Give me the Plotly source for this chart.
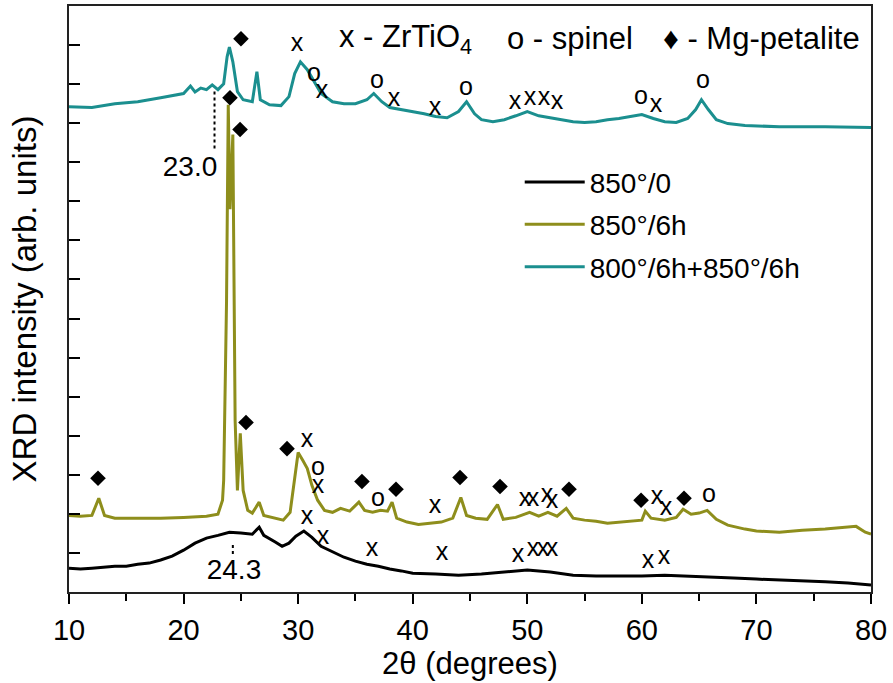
import plotly.graph_objects as go

# ---- data (2theta in degrees, intensity in arbitrary offset units) ----
x_850_0 = [10, 11, 12, 13, 14, 15, 16, 17, 18, 19, 20, 21, 22, 23, 24, 25, 26, 26.6, 27, 28, 28.6,
           29.2, 29.8, 30.5, 31.2, 32, 33, 34, 35, 36, 37, 38, 39, 40, 42, 44, 46, 48, 50, 52, 54,
           56, 58, 60, 62, 64, 66, 68, 70, 72, 74, 76, 78, 80]
y_850_0 = [0.61, 0.59, 0.61, 0.64, 0.66, 0.66, 0.71, 0.74, 0.82, 0.92, 1.07, 1.25, 1.38, 1.45, 1.53,
           1.51, 1.48, 1.66, 1.45, 1.28, 1.17, 1.25, 1.43, 1.56, 1.40, 1.17, 1.02, 0.89, 0.79, 0.71,
           0.66, 0.59, 0.54, 0.48, 0.46, 0.43, 0.46, 0.51, 0.56, 0.51, 0.43, 0.41, 0.41, 0.41, 0.43,
           0.41, 0.38, 0.36, 0.33, 0.31, 0.28, 0.26, 0.23, 0.18]

x_850_6 = [10, 11, 12, 12.6, 13.1, 14, 16, 18, 20, 22, 23, 23.4, 23.5, 23.75, 23.9, 24.05, 24.3, 24.5,
           24.7, 24.95, 25.2, 25.6, 26, 26.6, 27, 28, 28.7, 29.3, 29.8, 30.0, 30.4, 30.8, 31.2, 31.7,
           32.3, 33, 33.7, 34.5, 35.3, 35.8, 36.5, 37.2, 37.8, 38.2, 38.6, 39.5, 40.5, 41.5, 42.5,
           43.5, 44.2, 44.7, 45.5, 46.5, 47.4, 47.9, 49, 50.2, 51, 51.8, 52.6, 53.4, 54, 55, 56, 57,
           58, 59, 60, 60.3, 60.8, 62, 63, 63.6, 64.3, 65, 65.7, 66.5, 67.5, 69, 70, 72, 74, 76, 78,
           78.7, 79.5, 80]
y_850_6 = [1.96, 1.94, 1.96, 2.40, 1.96, 1.89, 1.89, 1.89, 1.91, 1.94, 1.99, 2.35, 2.86, 7.45, 12.47,
           9.80, 11.71, 4.39, 2.60, 4.06, 2.60, 2.09, 2.02, 2.30, 1.96, 1.89, 1.84, 2.04, 3.24, 3.57,
           3.37, 3.16, 2.73, 2.35, 2.09, 2.04, 2.14, 2.07, 2.30, 2.09, 2.04, 2.09, 2.07, 2.30, 1.89,
           1.79, 1.73, 1.76, 1.79, 1.89, 2.42, 1.96, 1.89, 1.86, 2.24, 1.86, 1.91, 2.04, 1.94, 2.04,
           1.94, 2.14, 1.89, 1.84, 1.81, 1.76, 1.79, 1.81, 1.84, 2.07, 1.89, 1.84, 1.91, 2.12, 1.99,
           2.02, 2.09, 1.86, 1.71, 1.61, 1.56, 1.53, 1.58, 1.61, 1.66, 1.68, 1.53, 1.48]

x_800_850 = [10, 12, 14, 16, 18, 20, 20.6, 21, 21.5, 22, 22.5, 23, 23.5, 23.8, 24.0, 24.3, 24.7, 25.2,
             26, 26.4, 26.7, 27.5, 28.5, 29.2, 29.7, 30.2, 30.8, 31.4, 32, 33, 34, 35, 36, 36.6,
             37.3, 38, 39, 40, 41, 42, 43, 44, 44.7, 45.4, 46, 47, 48, 49, 50, 51, 52, 53, 54, 55,
             56, 57, 58, 59, 60, 61, 62, 63, 64, 64.7, 65.2, 65.8, 66.5, 67.5, 69, 72, 76, 80]
y_800_850 = [12.42, 12.40, 12.50, 12.55, 12.65, 12.76, 12.95, 12.80, 12.90, 12.86, 12.98, 12.86,
             13.01, 13.70, 13.95, 13.57, 12.81, 12.60, 12.55, 13.32, 12.60, 12.47, 12.45, 12.68,
             13.27, 13.57, 13.37, 13.06, 12.76, 12.55, 12.50, 12.50, 12.60, 12.76, 12.55, 12.40,
             12.35, 12.30, 12.24, 12.17, 12.14, 12.30, 12.55, 12.24, 12.09, 12.04, 12.09, 12.19,
             12.30, 12.19, 12.14, 12.09, 12.04, 12.02, 12.04, 12.09, 12.12, 12.17, 12.22, 12.12,
             12.04, 12.02, 12.12, 12.35, 12.60, 12.35, 12.09, 11.99, 11.94, 11.91, 11.91, 11.89]

# phase labels: x = ZrTiO4, o = spinel, diamond = Mg-petalite
zr_x = [29.90, 32.08, 38.37, 41.95, 48.93, 50.24, 51.46, 52.59, 61.24,
        30.77, 31.73, 41.95, 49.80, 50.50, 51.72, 52.16, 61.32, 62.11,
        30.77, 32.17, 36.45, 42.56, 49.19, 50.50, 51.37, 52.16, 60.54, 61.93]
zr_y = [14.01, 12.81, 12.60, 12.37, 12.53, 12.63, 12.63, 12.53, 12.45,
        3.88, 2.70, 2.17, 2.35, 2.35, 2.47, 2.30, 2.42, 2.14,
        1.89, 1.38, 1.07, 0.99, 0.94, 1.07, 1.07, 1.07, 0.77, 0.87]
sp_x = [31.38, 36.88, 44.65, 59.93, 65.34, 31.73, 36.97, 65.86]
sp_y = [13.24, 13.06, 12.88, 12.65, 13.06, 3.16, 2.35, 2.47]
mg_x = [25.01, 24.05, 24.93, 12.53, 25.45, 29.03, 35.57, 38.54, 44.13, 47.62, 53.64, 59.93, 63.68]
mg_y = [14.16, 12.65, 11.84, 2.91, 4.34, 3.67, 2.83, 2.63, 2.93, 2.70, 2.63, 2.35, 2.40]

# marked peak positions
mark_labels = ["23.0", "24.3"]
mark_x = [22.7, 24.3]
mark_y0 = [12.81, 1.20]
mark_y1 = [11.28, 0.92]
mark_text_x = [20.56, 24.40]
mark_text_y = [10.84, 0.51]

FONT = "Arial, Liberation Sans, sans-serif"
TEAL = "#1b8f8f"
OLIVE = "#8e8e1c"

fig = go.Figure()
fig.add_trace(go.Scatter(x=x_850_0, y=y_850_0, mode="lines", name="850°/0", legendgroup="a",
                         line=dict(color="black", width=3)))
fig.add_trace(go.Scatter(x=x_850_6, y=y_850_6, mode="lines", name="850°/6h", legendgroup="b",
                         line=dict(color=OLIVE, width=3)))
fig.add_trace(go.Scatter(x=x_800_850, y=y_800_850, mode="lines", name="800°/6h+850°/6h",
                         legendgroup="c", line=dict(color=TEAL, width=3)))

for xv, y0, y1 in zip(mark_x, mark_y0, mark_y1):
    fig.add_trace(go.Scatter(x=[xv, xv], y=[y0, y1], mode="lines", showlegend=False,
                             line=dict(color="black", width=2, dash="dot")))
fig.add_trace(go.Scatter(x=mark_text_x, y=mark_text_y, mode="text", text=mark_labels,
                         showlegend=False, textfont=dict(family=FONT, size=28, color="black")))

fig.add_trace(go.Scatter(x=zr_x, y=zr_y, mode="text", text=["x"] * len(zr_x), showlegend=False,
                         textfont=dict(family=FONT, size=25, color="black")))
fig.add_trace(go.Scatter(x=sp_x, y=sp_y, mode="text", text=["o"] * len(sp_x), showlegend=False,
                         textfont=dict(family=FONT, size=25, color="black")))
fig.add_trace(go.Scatter(x=mg_x, y=mg_y, mode="markers", showlegend=False,
                         marker=dict(symbol="diamond", size=12, color="black")))

key_texts = ["x - ZrTiO<sub>4</sub>", "o - spinel", "♦ - Mg-petalite"]
key_pos = [0.334, 0.544, 0.738]
for t, px in zip(key_texts, key_pos):
    fig.add_annotation(x=px, y=0.944, xref="paper", yref="paper", text=t, showarrow=False,
                       xanchor="left", yanchor="middle",
                       font=dict(family=FONT, size=31, color="black"))

fig.update_layout(
    width=893, height=683,
    margin=dict(l=69, r=22, t=4, b=91),
    paper_bgcolor="white", plot_bgcolor="white",
    font=dict(family=FONT, color="black"),
    legend=dict(x=0.562, y=0.742, xanchor="left", yanchor="top", bgcolor="rgba(0,0,0,0)",
                font=dict(family=FONT, size=28, color="black"), itemwidth=60,
                tracegroupgap=3),
)
fig.update_xaxes(range=[10, 80], dtick=10, tick0=10, ticks="outside", ticklen=10, tickwidth=1.5,
                 tickcolor="black", showline=True, linecolor="#222", linewidth=2, mirror=True,
                 showgrid=False, zeroline=False,
                 minor=dict(dtick=5, ticks="outside", ticklen=7, tickwidth=1.5, tickcolor="black"),
                 tickfont=dict(family=FONT, size=29, color="black"), ticklabelstandoff=1,
                 title=dict(text="2θ (degrees)", font=dict(family=FONT, size=31, color="black"),
                            standoff=0))
fig.update_yaxes(range=[0, 15], dtick=1, tick0=0, ticks="inside", ticklen=11, tickwidth=1.5,
                 tickcolor="black", showticklabels=False, showline=True, linecolor="#222",
                 linewidth=2, mirror=True, showgrid=False, zeroline=False,
                 title=dict(text="XRD intensity (arb. units)",
                            font=dict(family=FONT, size=33, color="black"), standoff=20))

fig.write_html("out.html")
